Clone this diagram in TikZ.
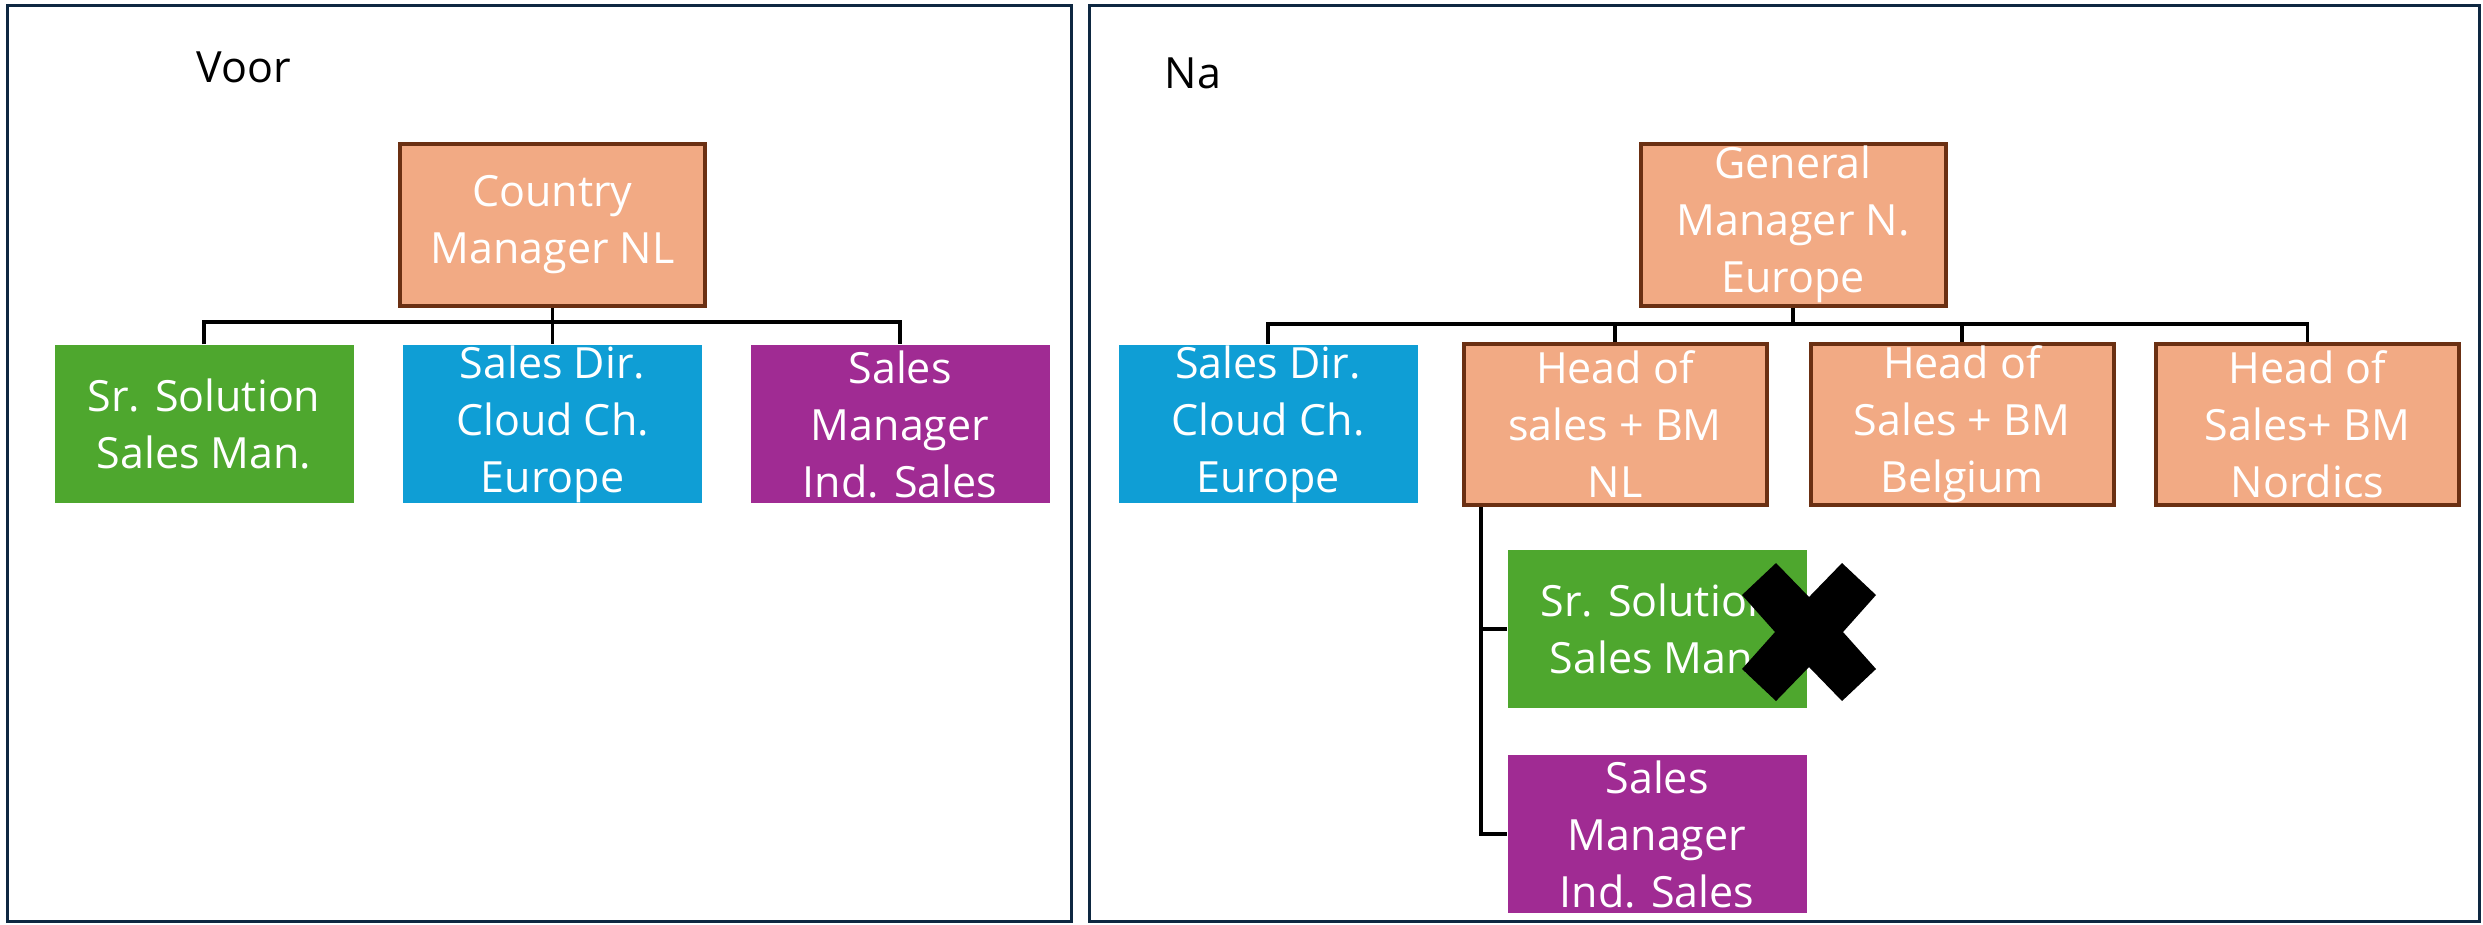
\documentclass[tikz,border=0pt]{standalone}
\usepackage{fontspec}
\setmainfont{Open Sans}
\definecolor{frameblue}{HTML}{0E2841}
\definecolor{orgfill}{HTML}{F2AA84}
\definecolor{orgline}{HTML}{6B3013}
\definecolor{offgreen}{HTML}{4EA72E}
\definecolor{offblue}{HTML}{0F9ED5}
\definecolor{offpurple}{HTML}{A02B93}
\tikzset{
  frame/.style={draw=frameblue, line width=0.9pt},
  boxtext/.style={text=white, align=center, inner sep=0pt, font=\fontsize{12.9}{17.1}\selectfont},
  mgrbox/.style={boxtext, rectangle, fill=orgfill, draw=orgline, line width=1.2pt, minimum width=91.5pt, minimum height=48.6pt},
  headbox/.style={boxtext, rectangle, fill=orgfill, draw=orgline, line width=1.2pt, minimum width=90.9pt, minimum height=48.3pt},
  colbox/.style={boxtext, rectangle, minimum width=89.7pt, minimum height=47.4pt},
  greenbox/.style={colbox, fill=offgreen},
  bluebox/.style={colbox, fill=offblue},
  purplebox/.style={colbox, fill=offpurple},
  link/.style={draw=black, line width=1pt},
  paneltitle/.style={text=black, inner sep=0pt, font=\fontsize{12.9}{17.1}\selectfont}
}
\begin{document}
\begin{tikzpicture}[x=0.3pt, y=-0.3pt]
\useasboundingbox (0,0) rectangle (2483,924);
% frames
\draw[frame] (7,5) rectangle (1071,921);
\draw[frame] (1089,5) rectangle (2479,921);
% titles
\node[paneltitle, anchor=base west] (voor) at (196,82) {Voor};
\node[paneltitle, anchor=base west] (na) at (1164,88) {Na};
% left panel
\node[mgrbox] (cm) at (552.5,224.5) {Country\\Manager NL};
\node[greenbox] (lgreen) at (204,424) {Sr. Solution\\Sales Man.};
\node[bluebox] (lblue) at (552.5,424) {Sales Dir.\\Cloud Ch.\\Europe};
\node[purplebox] (lpurple) at (900,424) {Sales\\Manager\\Ind. Sales};
\coordinate (lbus) at (552.5,322);
\draw[link] (cm.south) -- (lblue.north);
\draw[link] (lgreen.north) |- (lbus) -| (lpurple.north);
% right panel
\node[mgrbox] (gm) at (1793,224.5) {General\\Manager N.\\Europe};
\node[bluebox] (rblue) at (1268,424) {Sales Dir.\\Cloud Ch.\\Europe};
\node[headbox] (nl) at (1615,424.5) {Head of\\sales + BM\\NL};
\node[headbox] (be) at (1962,424.5) {Head of\\Sales + BM\\Belgium};
\node[headbox] (no) at (2307.5,424.5) {Head of\\Sales+ BM\\Nordics};
\node[greenbox] (rgreen) at (1657,629) {Sr. Solution\\Sales Man.};
\node[purplebox] (rpurple) at (1657,834) {Sales\\Manager\\Ind. Sales};
\coordinate (rbus) at (1793,324);
\draw[link] (gm.south) -- (rbus);
\draw[link] (rblue.north) |- (rbus) -| (no.north);
\draw[link] (nl.north) -- (nl.north |- rbus);
\draw[link] (be.north) -- (be.north |- rbus);
\draw[link] (nl.south west) ++(19.5,0) coordinate (trunk) |- (rpurple.west);
\draw[link] (trunk |- rgreen.west) -- (rgreen.west);
% cross mark
\fill[black, shift={(1809,632)}] (-33,-69) -- (0,-35) -- (33,-69) -- (67,-37) -- (34,0) -- (67,37) -- (33,69) -- (0,35) -- (-33,69) -- (-67,37) -- (-34,0) -- (-67,-37) -- cycle;
\end{tikzpicture}
\end{document}
